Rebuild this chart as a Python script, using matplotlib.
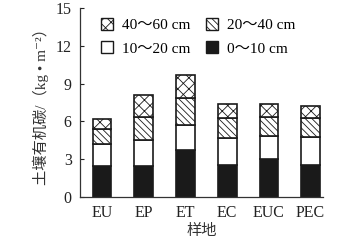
import numpy as np
import matplotlib
matplotlib.use("Agg")
import matplotlib.pyplot as plt
from matplotlib.patches import Patch

plt.rcParams["font.family"] = ["Liberation Serif", "Noto Sans CJK SC",
                               "DejaVu Serif"]
plt.rcParams["hatch.linewidth"] = 0.6

# Data.
sites = ["EU", "EP", "ET", "EC", "EUC", "PEC"]
depth_0_10 = [2.43, 2.43, 3.70, 2.54, 3.02, 2.54]
depth_10_20 = [1.77, 2.12, 1.99, 2.14, 1.85, 2.22]
depth_20_40 = [1.20, 1.80, 2.17, 1.59, 1.48, 1.51]
depth_40_60 = [0.80, 1.72, 1.82, 1.11, 1.03, 0.93]
layer_labels = ["0～10 cm", "10～20 cm", "20～40 cm", "40～60 cm"]

layers = [depth_0_10, depth_10_20, depth_20_40, depth_40_60]
styles = [
    dict(facecolor="#1a1a1a", hatch=None),
    dict(facecolor="white", hatch=None),
    dict(facecolor="white", hatch="\\\\\\\\\\"),
    dict(facecolor="white", hatch="xxx"),
]

fig = plt.figure(figsize=(3.39, 2.45), dpi=100)
ax = fig.add_axes([0.236, 0.196, 0.716, 0.771])

x = np.arange(len(sites))
bottom = np.zeros(len(sites))
handles = []
for vals, st, lab in zip(layers, styles, layer_labels):
    ax.bar(x, vals, 0.45, bottom=bottom, facecolor=st["facecolor"],
           hatch=st["hatch"], edgecolor="#1a1a1a", linewidth=1.2)
    bottom += np.array(vals)
    handles.append(Patch(facecolor=st["facecolor"], hatch=st["hatch"],
                         edgecolor="#1a1a1a", linewidth=1.0, label=lab))

ax.set_xlim(-0.53, 5.29)
ax.set_ylim(0, 15)
ax.set_yticks([0, 3, 6, 9, 12, 15])
ax.set_xticks(x)
ax.set_xticklabels(sites)
ax.tick_params(axis="y", direction="in", length=3, width=0.8,
               labelsize=11.5, pad=6, colors="#222222")
ax.tick_params(axis="x", length=0, labelsize=11.5, pad=6, colors="#222222")
for s in ["top", "right"]:
    ax.spines[s].set_visible(False)
for s in ["left", "bottom"]:
    ax.spines[s].set_linewidth(0.9)
    ax.spines[s].set_color("#333333")

ax.set_xlabel("样地", fontsize=11, labelpad=2, color="#333333")
ax.set_ylabel("土壤有机碳/（kg • m⁻²）", fontsize=11, labelpad=5,
              color="#333333")

# Legend order: row 1 = 40-60, 20-40; row 2 = 10-20, 0-10.
leg_handles = [handles[3], handles[1], handles[2], handles[0]]
ax.legend(handles=leg_handles, ncol=2, frameon=False, fontsize=11,
          loc="upper left", bbox_to_anchor=(0.03, 1.02),
          handlelength=0.8, handleheight=0.8, handletextpad=0.6,
          columnspacing=1.0, labelspacing=0.6)

fig.savefig("out.png", dpi=100)
